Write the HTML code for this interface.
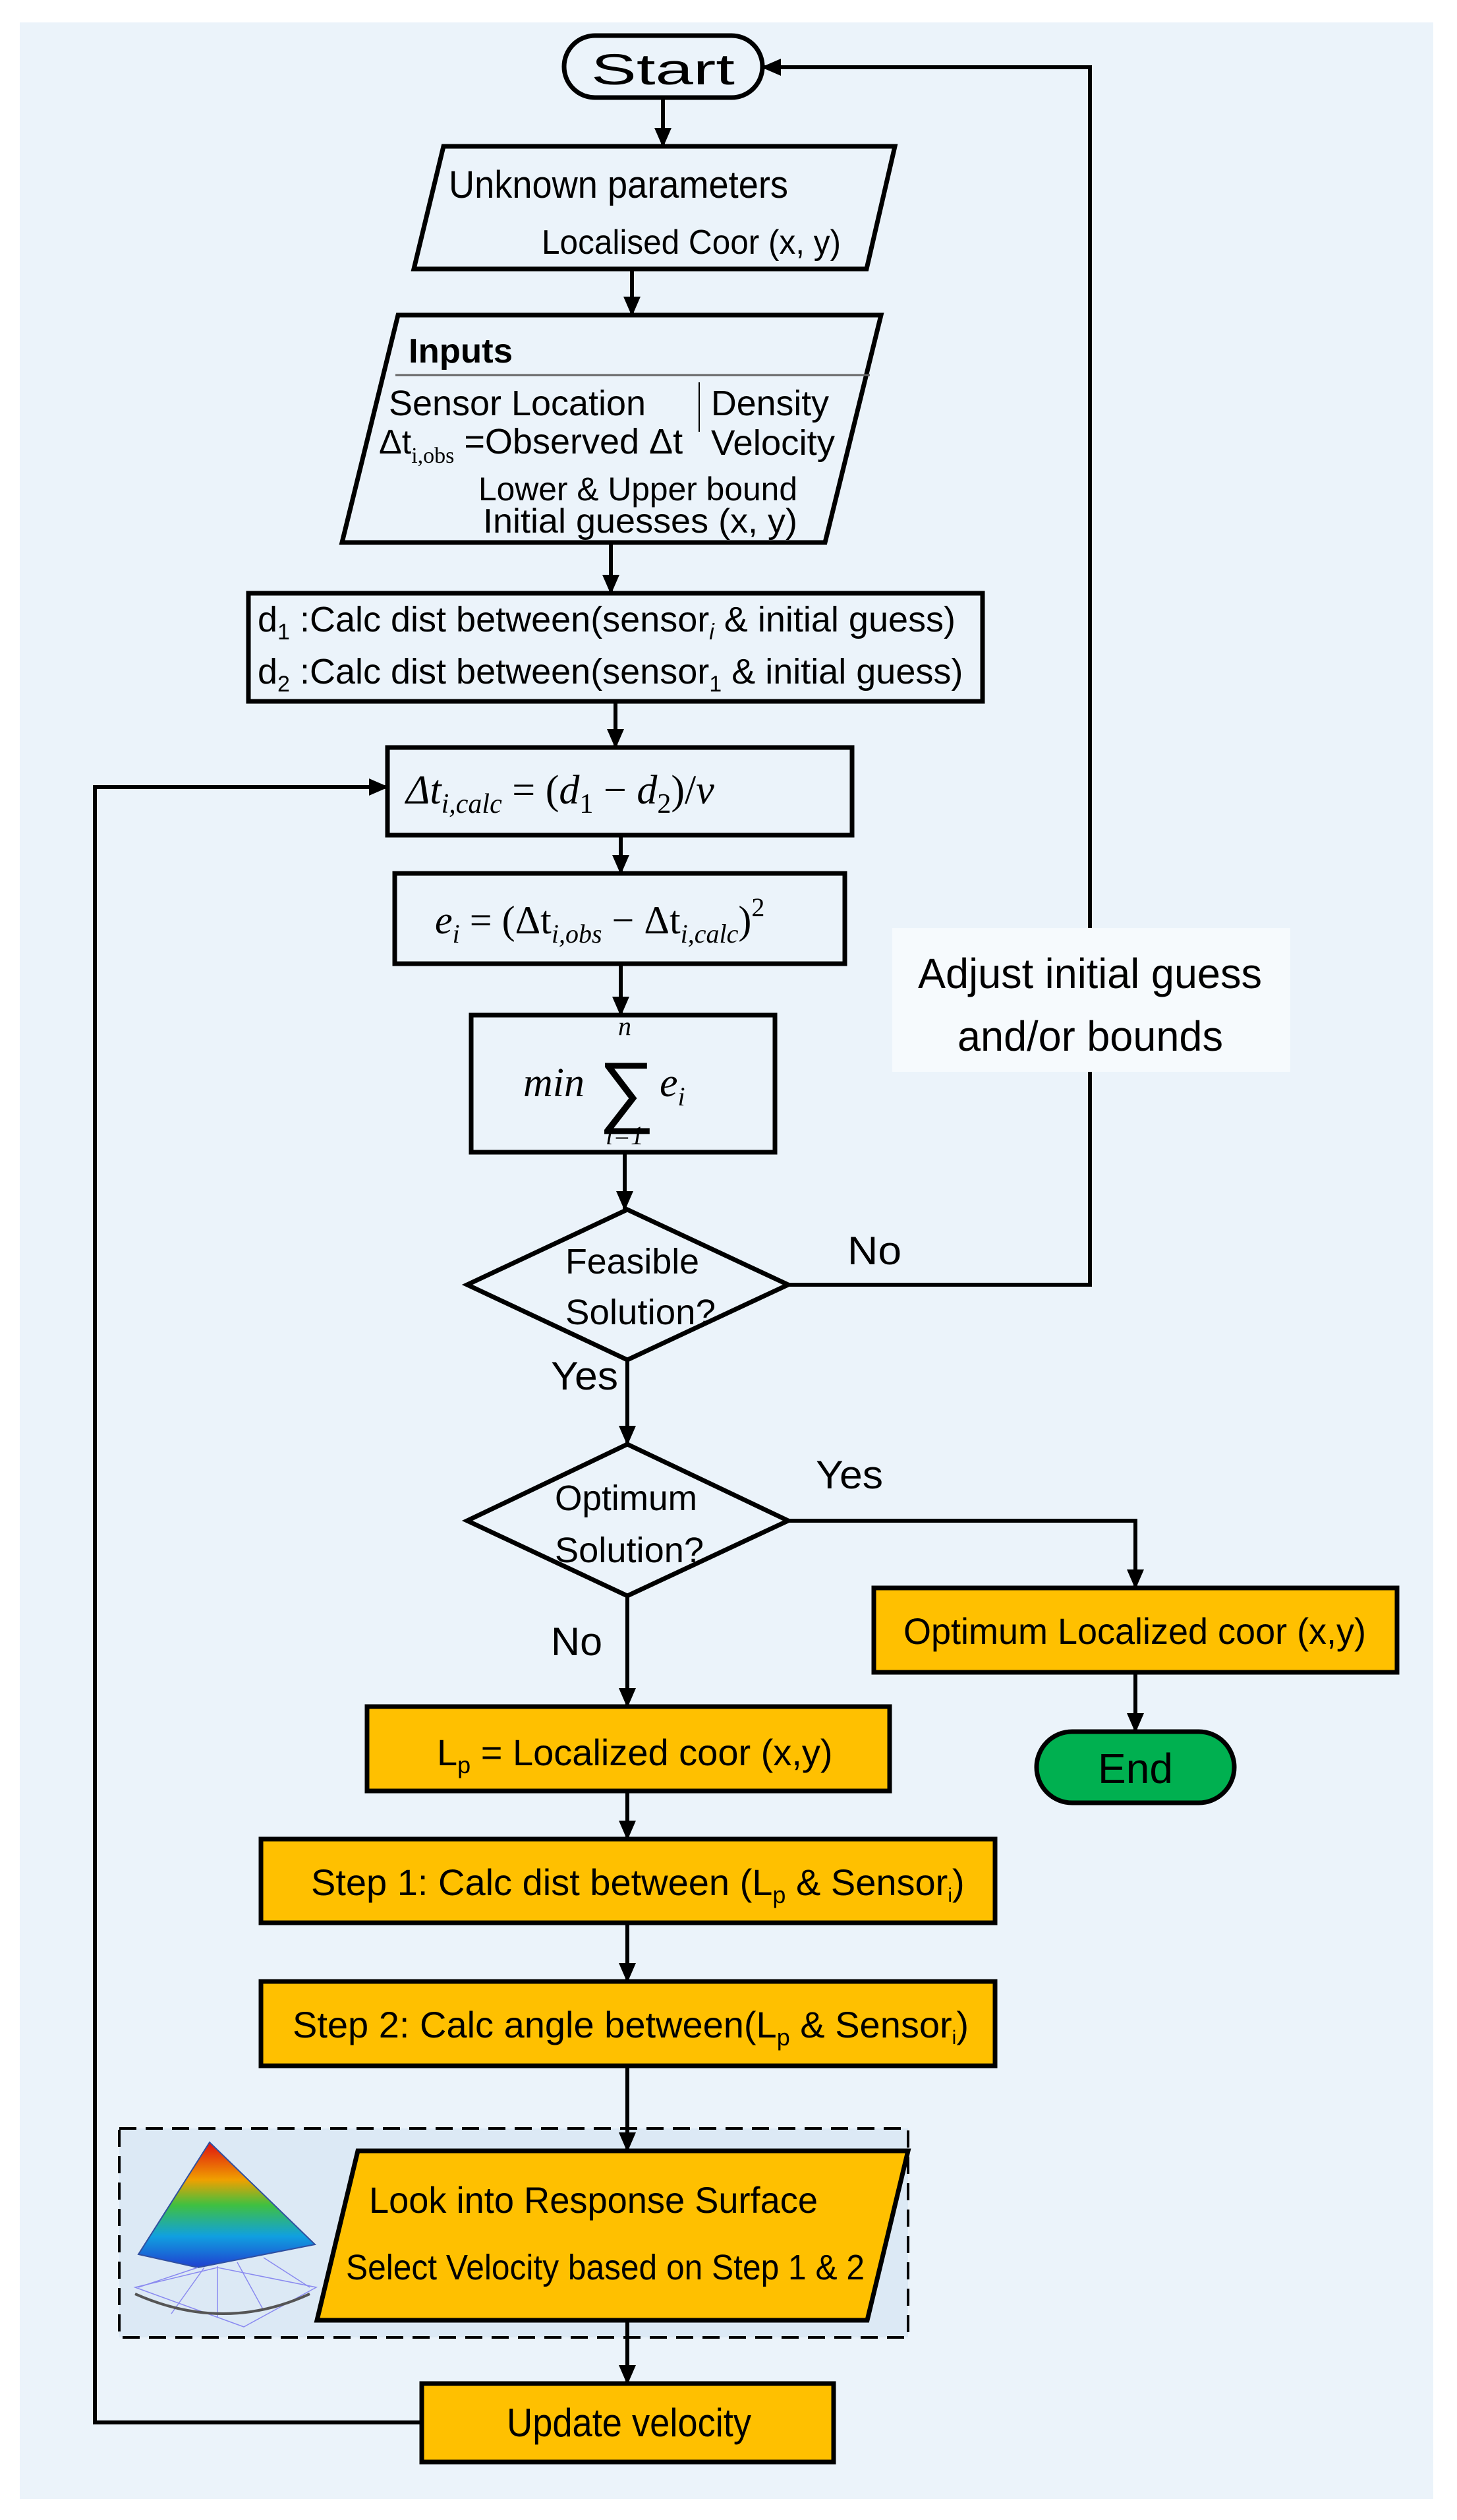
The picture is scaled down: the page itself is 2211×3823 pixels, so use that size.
<!DOCTYPE html>
<html><head><meta charset="utf-8"><style>
html,body{margin:0;padding:0;background:#fff}
svg{display:block}
text{font-family:"Liberation Sans Narrow","Liberation Sans",sans-serif;fill:#000}
.m{font-family:"Liberation Serif",serif;font-style:italic}
</style></head><body>
<svg width="2211" height="3823" viewBox="0 0 2211 3823" xmlns="http://www.w3.org/2000/svg">
<defs>
<marker id="a" markerUnits="userSpaceOnUse" markerWidth="30" markerHeight="60" refX="28" refY="13" orient="auto" viewBox="0 0 30 26">
<path d="M0,0 L30,13 L0,26 Z" fill="#000"/></marker>
<linearGradient id="g" x1="0" y1="0" x2="0" y2="1">
<stop offset="0" stop-color="#e01010"/><stop offset="0.3" stop-color="#f0a000"/><stop offset="0.5" stop-color="#40c040"/><stop offset="0.75" stop-color="#10a0e0"/><stop offset="1" stop-color="#2040d0"/></linearGradient>
</defs>
<rect x="30" y="34" width="2145" height="3757" fill="#EBF3FA"/>
<g stroke="#000" stroke-width="7" fill="none">
<rect x="856" y="54" width="301" height="94" rx="47" fill="#EBF3FA"/>
<polygon points="673,222 1358,222 1315,408 628,408" fill="#EBF3FA"/>
<polygon points="604,478 1337,478 1252,823 519,823" fill="#EBF3FA"/>
<rect x="377" y="900" width="1114" height="164" fill="#EBF3FA"/>
<rect x="588" y="1134" width="705" height="133" fill="#EBF3FA"/>
<rect x="599" y="1325" width="683" height="137" fill="#EBF3FA"/>
<rect x="715" y="1540" width="461" height="208" fill="#EBF3FA"/>
<polygon points="952,1835 1196,1949 952,2063 709,1949" fill="#EBF3FA"/>
<polygon points="952,2191 1196,2307 952,2421 709,2307" fill="#EBF3FA"/>
<rect x="1326" y="2409" width="794" height="128" fill="#FFC000"/>
<rect x="1573" y="2627" width="300" height="108" rx="54" fill="#00B050"/>
<rect x="557" y="2589" width="793" height="128" fill="#FFC000"/>
<rect x="396" y="2790" width="1114" height="127" fill="#FFC000"/>
<rect x="396" y="3006" width="1114" height="128" fill="#FFC000"/>
</g>
<rect x="181" y="3229" width="1197" height="317" fill="#DCE9F5" stroke="#000" stroke-width="4" stroke-dasharray="26,14"/>
<polygon points="543,3263 1378,3263 1316,3520 481,3520" fill="#FFC000" stroke="#000" stroke-width="7"/>
<rect x="640" y="3616" width="625" height="119" fill="#FFC000" stroke="#000" stroke-width="7"/>
<polygon points="318,3250 210,3420 300,3440 478,3405" fill="url(#g)" stroke="#3050a0" stroke-width="2"/>
<g stroke="#8a8af0" stroke-width="1.5" fill="none">
<line x1="300" y1="3440" x2="210" y2="3470"/><line x1="310" y1="3440" x2="260" y2="3510"/><line x1="330" y1="3438" x2="330" y2="3515"/><line x1="360" y1="3432" x2="400" y2="3505"/><line x1="400" y1="3425" x2="470" y2="3470"/>
<polygon points="205,3470 370,3530 480,3470 330,3440"/></g>
<path d="M205,3480 Q340,3540 470,3480" stroke="#555" stroke-width="4" fill="none"/>
<line x1="600" y1="569" x2="1320" y2="569" stroke="#666" stroke-width="3"/>
<line x1="1061" y1="580" x2="1061" y2="655" stroke="#000" stroke-width="2"/>
<g stroke="#000" stroke-width="6" fill="none" marker-end="url(#a)">
<line x1="1006" y1="148" x2="1006" y2="222"/>
<line x1="959" y1="408" x2="959" y2="478"/>
<line x1="927" y1="823" x2="927" y2="900"/>
<line x1="934" y1="1064" x2="934" y2="1134"/>
<line x1="942" y1="1267" x2="942" y2="1325"/>
<line x1="942" y1="1462" x2="942" y2="1540"/>
<line x1="948" y1="1748" x2="948" y2="1835"/>
<line x1="952" y1="2063" x2="952" y2="2191"/>
<line x1="952" y1="2421" x2="952" y2="2589"/>
<line x1="952" y1="2717" x2="952" y2="2790"/>
<line x1="952" y1="2917" x2="952" y2="3006"/>
<line x1="952" y1="3134" x2="952" y2="3263"/>
<line x1="952" y1="3520" x2="952" y2="3616"/>
<polyline points="1196,2307 1723,2307 1723,2409"/>
<line x1="1723" y1="2537" x2="1723" y2="2627"/>
<polyline points="1654,1408 1654,102 1157,102"/>
<polyline points="640,3675 144,3675 144,1194 588,1194"/>
</g>
<polyline points="1196,1949 1654,1949 1654,1626" stroke="#000" stroke-width="6" fill="none"/>
<rect x="1354" y="1408" width="604" height="218" fill="#F6FAFD"/>
<text x="1006" y="128" font-size="66" text-anchor="middle" textLength="218" lengthAdjust="spacingAndGlyphs">Start</text>
<text x="681" y="300" font-size="58" textLength="515" lengthAdjust="spacingAndGlyphs">Unknown parameters</text>
<text x="822" y="385" font-size="52" textLength="454" lengthAdjust="spacingAndGlyphs">Localised Coor (x, y)</text>
<text x="620" y="550" font-size="52" font-weight="bold" textLength="158" lengthAdjust="spacingAndGlyphs">Inputs</text>
<text x="590" y="630" font-size="54" textLength="390" lengthAdjust="spacingAndGlyphs">Sensor Location</text>
<text x="1079" y="630" font-size="54" textLength="179" lengthAdjust="spacingAndGlyphs">Density</text>
<text x="575" y="688" font-size="52">Δt<tspan font-size="34" dy="14" font-family="Liberation Serif">i,obs</tspan><tspan dy="-14" font-size="54"> =Observed Δt</tspan></text>
<text x="1079" y="690" font-size="54" textLength="188" lengthAdjust="spacingAndGlyphs">Velocity</text>
<text x="726" y="759" font-size="50" textLength="484" lengthAdjust="spacingAndGlyphs">Lower &amp; Upper bound</text>
<text x="733" y="808" font-size="52" textLength="477" lengthAdjust="spacingAndGlyphs">Initial guesses (x, y)</text>
<text x="391" y="958" font-size="54">d<tspan font-size="34" dy="12">1</tspan><tspan dy="-12"> :Calc dist between(sensor</tspan><tspan font-size="34" dy="12" font-style="italic">i</tspan><tspan dy="-12"> &amp; initial guess)</tspan></text>
<text x="391" y="1037" font-size="54">d<tspan font-size="34" dy="12">2</tspan><tspan dy="-12"> :Calc dist between(sensor</tspan><tspan font-size="34" dy="12">1</tspan><tspan dy="-12"> &amp; initial guess)</tspan></text>
<text x="616" y="1219" font-size="62" class="m">Δt<tspan font-size="42" dy="14">i,calc</tspan><tspan dy="-14" font-style="normal"> = (</tspan>d<tspan font-size="42" dy="14" font-style="normal">1</tspan><tspan dy="-14" font-style="normal"> − </tspan>d<tspan font-size="42" dy="14" font-style="normal">2</tspan><tspan dy="-14" font-style="normal">)/</tspan>v</text>
<text x="660" y="1416" font-size="60" class="m">e<tspan font-size="40" dy="14">i</tspan><tspan dy="-14" font-style="normal"> = (Δt</tspan><tspan font-size="40" dy="14">i,obs</tspan><tspan dy="-14" font-style="normal"> − Δt</tspan><tspan font-size="40" dy="14">i,calc</tspan><tspan dy="-14" font-style="normal">)</tspan><tspan font-size="40" dy="-26" font-style="normal">2</tspan></text>
<text x="794" y="1663" font-size="62" class="m">min</text>
<text x="908" y="1695" font-size="120" font-family="Liberation Serif">∑</text>
<text x="948" y="1570" font-size="40" class="m" text-anchor="middle">n</text>
<text x="948" y="1736" font-size="40" class="m" text-anchor="middle">i=1</text>
<text x="1001" y="1663" font-size="62" class="m">e<tspan font-size="40" dy="14">i</tspan></text>
<text x="858" y="1932" font-size="54" textLength="203" lengthAdjust="spacingAndGlyphs">Feasible</text>
<text x="858" y="2009" font-size="54" textLength="228" lengthAdjust="spacingAndGlyphs">Solution?</text>
<text x="1286" y="1918" font-size="60" textLength="82" lengthAdjust="spacingAndGlyphs">No</text>
<text x="1393" y="1499" font-size="64" textLength="522" lengthAdjust="spacingAndGlyphs">Adjust initial guess</text>
<text x="1453" y="1594" font-size="64" textLength="403" lengthAdjust="spacingAndGlyphs">and/or bounds</text>
<text x="836" y="2108" font-size="60" textLength="102" lengthAdjust="spacingAndGlyphs">Yes</text>
<text x="842" y="2291" font-size="54" textLength="216" lengthAdjust="spacingAndGlyphs">Optimum</text>
<text x="842" y="2370" font-size="54" textLength="226" lengthAdjust="spacingAndGlyphs">Solution?</text>
<text x="1238" y="2258" font-size="60" textLength="102" lengthAdjust="spacingAndGlyphs">Yes</text>
<text x="836" y="2511" font-size="60" textLength="78" lengthAdjust="spacingAndGlyphs">No</text>
<text x="1371" y="2494" font-size="56" textLength="702" lengthAdjust="spacingAndGlyphs">Optimum Localized coor (x,y)</text>
<text x="1723" y="2705" font-size="64" text-anchor="middle" textLength="114" lengthAdjust="spacingAndGlyphs">End</text>
<text x="663" y="2678" font-size="56">L<tspan font-size="36" dy="12">p</tspan><tspan dy="-12"> = Localized coor (x,y)</tspan></text>
<text x="472" y="2875" font-size="56">Step 1: Calc dist between (L<tspan font-size="36" dy="12">p</tspan><tspan dy="-12"> &amp; Sensor</tspan><tspan font-size="30" dy="10">i</tspan><tspan dy="-10">)</tspan></text>
<text x="444" y="3091" font-size="56">Step 2: Calc angle between(L<tspan font-size="36" dy="12">p</tspan><tspan dy="-12"> &amp; Sensor</tspan><tspan font-size="30" dy="10">i</tspan><tspan dy="-10">)</tspan></text>
<text x="560" y="3357" font-size="56" textLength="681" lengthAdjust="spacingAndGlyphs">Look into Response Surface</text>
<text x="525" y="3458" font-size="54" textLength="787" lengthAdjust="spacingAndGlyphs">Select Velocity based on Step 1 &amp; 2</text>
<text x="769" y="3696" font-size="60" textLength="371" lengthAdjust="spacingAndGlyphs">Update velocity</text>
</svg>
</body></html>
